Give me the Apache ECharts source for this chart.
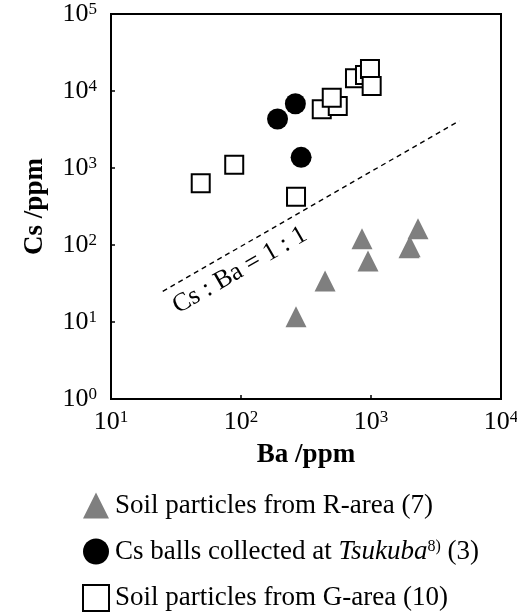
<!DOCTYPE html>
<html>
<head>
<meta charset="utf-8">
<script src="https://cdn.jsdelivr.net/npm/echarts@6/dist/echarts.min.js"></script>
<style>
  html, body { margin: 0; padding: 0; background: #fff; }
  #chart { width: 517px; height: 614px; }
</style>
</head>
<body>
<div id="chart"></div>
<script>
// values (ppm)
const rAreaBa = [265, 443, 853, 948, 1960, 2000, 2300];
const rAreaCs = [11.7, 34, 121, 62, 92, 95, 163];

const tsukubaBa = [191, 262, 290];
const tsukubaCs = [4330, 6840, 1377];

const gAreaBa = [49, 88.7, 265, 418, 555, 499, 753, 899, 982, 1012];
const gAreaCs = [632, 1104, 424, 5780, 6380, 8180, 14630, 16150, 19300, 11610];

// Cs : Ba = 1 : 1 reference line
const ratioBa = [25, 4780];
const ratioCs = [25, 4100];

const seriesNames = [
  'Soil particles from R-area (7)',
  'Cs balls collected at Tsukuba (3)',
  'Soil particles from G-area (10)'
];

const FONT = "'Liberation Serif', 'Times New Roman', serif";

const zip = (xs, ys) => xs.map((x, i) => [x, ys[i]]);

const powLabel = v => '{b|10}{s|' + Math.round(Math.log10(v)) + '}';
const powRich = {
  b: { fontFamily: FONT, fontSize: 26, color: '#000', lineHeight: 26 },
  s: { fontFamily: FONT, fontSize: 17, color: '#000', lineHeight: 26, verticalAlign: 'top' }
};

const chart = echarts.init(document.getElementById('chart'));

const option = {
  animation: false,
  backgroundColor: '#fff',
  grid: {
    left: 111, top: 14, width: 390, height: 385,
    outerBoundsMode: 'none',
    show: true, borderColor: '#000', borderWidth: 2
  },
  xAxis: {
    type: 'log', logBase: 10, min: 10, max: 10000,
    name: 'Ba /ppm', nameLocation: 'middle', nameGap: 43,
    nameTextStyle: { fontFamily: FONT, fontSize: 27, fontWeight: 'bold', color: '#000' },
    axisLine: { show: true, lineStyle: { color: '#000', width: 2 } },
    axisTick: { show: true, inside: true, length: 4, lineStyle: { color: '#000', width: 1.5 } },
    minorTick: { show: false },
    splitLine: { show: false },
    axisLabel: { margin: 10, formatter: powLabel, rich: powRich }
  },
  yAxis: {
    type: 'log', logBase: 10, min: 1, max: 100000,
    name: 'Cs /ppm', nameLocation: 'middle', nameGap: 62,
    nameTextStyle: { fontFamily: FONT, fontSize: 27, fontWeight: 'bold', color: '#000' },
    axisLine: { show: true, lineStyle: { color: '#000', width: 2 } },
    axisTick: { show: true, inside: true, length: 4, lineStyle: { color: '#000', width: 1.5 } },
    splitLine: { show: false },
    axisLabel: { margin: 14, formatter: powLabel, rich: powRich }
  },
  legend: {
    orient: 'vertical',
    left: 77, top: 487, height: 140,
    itemWidth: 26, itemHeight: 26, itemGap: 19,
    data: seriesNames,
    formatter: function (name) {
      if (name === seriesNames[1]) {
        return '{t|Cs balls collected at }{i|Tsukuba}{sup|8)}{t| (3)}';
      }
      return '{t|' + name + '}';
    },
    textStyle: {
      padding: [0, 0, 0, 1],
      rich: {
        t: { fontFamily: FONT, fontSize: 27, color: '#000', lineHeight: 26 },
        i: { fontFamily: FONT, fontSize: 27, fontStyle: 'italic', color: '#000', lineHeight: 26 },
        sup: { fontFamily: FONT, fontSize: 16, color: '#000', lineHeight: 26, verticalAlign: 'top' }
      }
    }
  },
  series: [
    {
      name: 'ratio',
      type: 'line',
      data: zip(ratioBa, ratioCs),
      symbol: 'none',
      silent: true,
      z: 1,
      lineStyle: { color: '#000', width: 1.4, type: [5, 4] }
    },
    {
      name: seriesNames[0],
      type: 'scatter',
      symbol: 'triangle',
      symbolSize: 21,
      itemStyle: { color: '#7f7f7f', opacity: 1 },
      data: zip(rAreaBa, rAreaCs)
    },
    {
      name: seriesNames[1],
      type: 'scatter',
      symbol: 'circle',
      symbolSize: 21,
      itemStyle: { color: '#000', opacity: 1 },
      data: zip(tsukubaBa, tsukubaCs)
    },
    {
      name: seriesNames[2],
      type: 'scatter',
      symbol: 'rect',
      symbolSize: 18,
      itemStyle: { color: '#fff', borderColor: '#000', borderWidth: 2, opacity: 1 },
      data: zip(gAreaBa, gAreaCs)
    }
  ]
};

chart.setOption(option);

// label along the 1:1 line
const p1 = chart.convertToPixel({ seriesIndex: 0 }, [ratioBa[0], ratioCs[0]]);
const p2 = chart.convertToPixel({ seriesIndex: 0 }, [ratioBa[1], ratioCs[1]]);
const angle = Math.atan2(p1[1] - p2[1], p2[0] - p1[0]);
const lp = chart.convertToPixel({ seriesIndex: 0 }, [98, 47]);

chart.setOption({
  graphic: [{
    type: 'text',
    x: lp[0], y: lp[1],
    rotation: angle,
    style: {
      text: 'Cs : Ba = 1 : 1',
      fontFamily: FONT, fontSize: 26, fill: '#000',
      align: 'center', verticalAlign: 'middle'
    }
  }]
});
</script>
</body>
</html>
